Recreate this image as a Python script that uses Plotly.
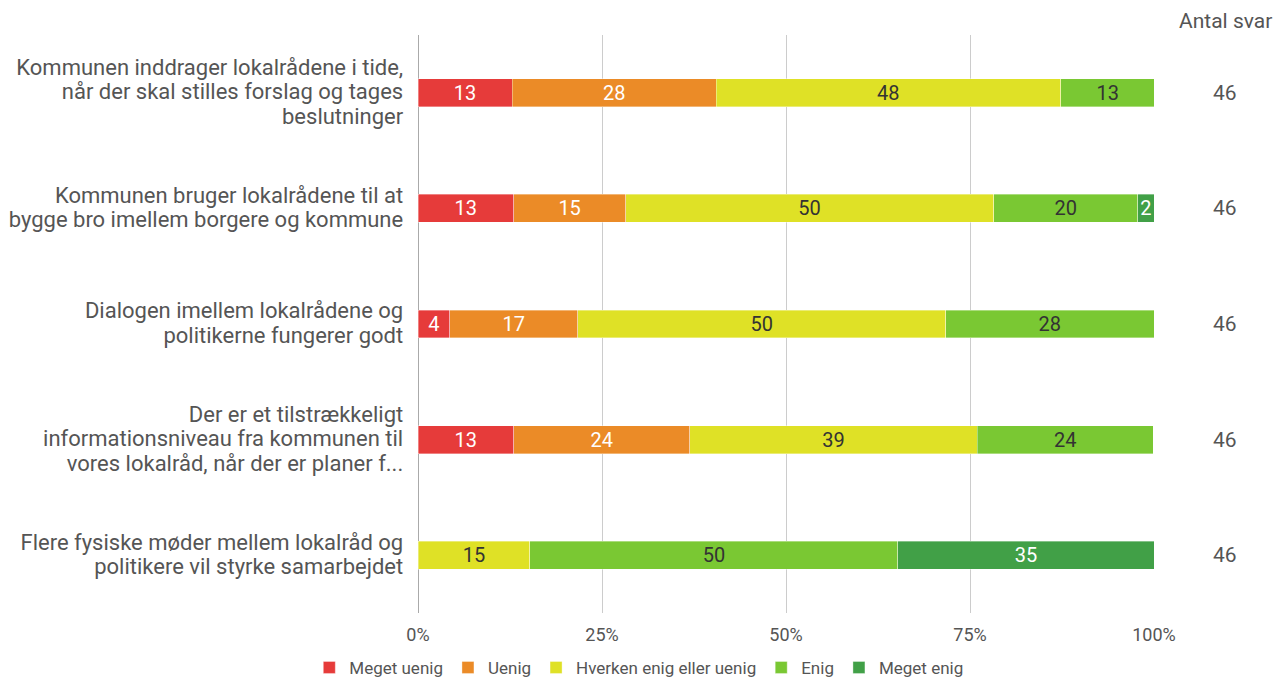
"""Stacked horizontal bar chart: lokalråd survey answers (percent)."""

import plotly.graph_objects as go

QUESTIONS = [
    "Kommunen inddrager lokalrådene i tide,<br>når der skal stilles forslag og tages<br>beslutninger",
    "Kommunen bruger lokalrådene til at<br>bygge bro imellem borgere og kommune",
    "Dialogen imellem lokalrådene og<br>politikerne fungerer godt",
    "Der er et tilstrækkeligt<br>informationsniveau fra kommunen til<br>vores lokalråd, når der er planer f...",
    "Flere fysiske møder mellem lokalråd og<br>politikere vil styrke samarbejdet",
]

# bar widths (share of row, %)
MEGET_UENIG = [12.8, 13.0, 4.3, 13.0, None]
UENIG = [27.7, 15.2, 17.4, 23.9, None]
HVERKEN = [46.8, 50.0, 50.0, 39.1, 15.2]
ENIG = [12.8, 19.6, 28.3, 23.9, 50.0]
MEGET_ENIG = [None, 2.2, None, None, 34.8]

# labels printed on the segments
MEGET_UENIG_LBL = ["13", "13", "4", "13", ""]
UENIG_LBL = ["28", "15", "17", "24", ""]
HVERKEN_LBL = ["48", "50", "50", "39", "15"]
ENIG_LBL = ["13", "20", "28", "24", "50"]
MEGET_ENIG_LBL = ["", "2", "", "", "35"]

ANTAL_SVAR = [46, 46, 46, 46, 46]

X_TICKS = [0, 25, 50, 75, 100]
X_TICK_LABELS = ["0%", "25%", "50%", "75%", "100%"]

SERIES = [
    ("Meget uenig", MEGET_UENIG, MEGET_UENIG_LBL, "#E63B3A", "white"),
    ("Uenig", UENIG, UENIG_LBL, "#EB8B27", "white"),
    ("Hverken enig eller uenig", HVERKEN, HVERKEN_LBL, "#DFE126", "#333333"),
    ("Enig", ENIG, ENIG_LBL, "#7AC833", "#333333"),
    ("Meget enig", MEGET_ENIG, MEGET_ENIG_LBL, "#41A047", "white"),
]

FONT = "Roboto, Arial, sans-serif"
GREY = "#555555"


def big_lines(label, px=22):
    # larger glyphs, but keep the tighter line spacing of the 19px tick font
    return "<br>".join(
        f"<span style='font-size:{px}px'>{line}</span>" for line in label.split("<br>")
    )


fig = go.Figure()
for name, vals, labels, color, txt_color in SERIES:
    fig.add_trace(go.Bar(
        y=QUESTIONS, x=vals, name=name, orientation="h",
        marker=dict(color=color, line=dict(color="rgba(255,255,255,0.6)", width=0.6)),
        text=labels, texttemplate="%{text}", textposition="inside",
        insidetextanchor="middle", textangle=0,
        textfont=dict(family=FONT, size=20, color=txt_color),
        hoverinfo="name+x",
    ))

for q, n in zip(QUESTIONS, ANTAL_SVAR):
    fig.add_annotation(
        x=1.0965, y=q, xref="paper", yref="y", xanchor="center", text=str(n),
        showarrow=False, font=dict(family=FONT, size=21, color=GREY),
    )

fig.add_annotation(
    x=1.0965, y=1.0, xref="paper", yref="paper", xanchor="center", yanchor="bottom",
    yshift=0, text="Antal svar", showarrow=False,
    font=dict(family=FONT, size=21, color=GREY),
)

fig.update_layout(
    barmode="stack",
    bargap=0.758,
    width=1277, height=682,
    paper_bgcolor="white", plot_bgcolor="white",
    margin=dict(l=418, r=123, t=35, b=69, autoexpand=False),
    font=dict(family=FONT, size=19, color=GREY),
    uniformtext=dict(minsize=20, mode="show"),
    showlegend=True,
    legend=dict(
        orientation="h", x=0.30, xanchor="center", y=-0.095, yanchor="middle",
        font=dict(family=FONT, size=17, color=GREY),
        traceorder="normal", itemclick=False,
    ),
)

fig.update_xaxes(
    range=[0, 100], tickvals=X_TICKS, ticktext=X_TICK_LABELS,
    showgrid=True, gridcolor="#CCCCCC", gridwidth=1,
    zeroline=True, zerolinecolor="#AAAAAA", zerolinewidth=1,
    ticks="outside", ticklen=5, tickcolor="rgba(0,0,0,0)",
    tickfont=dict(family=FONT, size=18, color=GREY),
    fixedrange=True,
)
fig.update_yaxes(
    autorange="reversed", showgrid=False,
    tickvals=QUESTIONS, ticktext=[big_lines(q) for q in QUESTIONS],
    ticks="outside", ticklen=10, tickcolor="rgba(0,0,0,0)",
    tickfont=dict(family=FONT, size=19, color=GREY),
    automargin=False, fixedrange=True,
)

fig.write_html(
    "out.html",
    config={"displayModeBar": False},
    post_script="document.body.style.margin='0';",
)
